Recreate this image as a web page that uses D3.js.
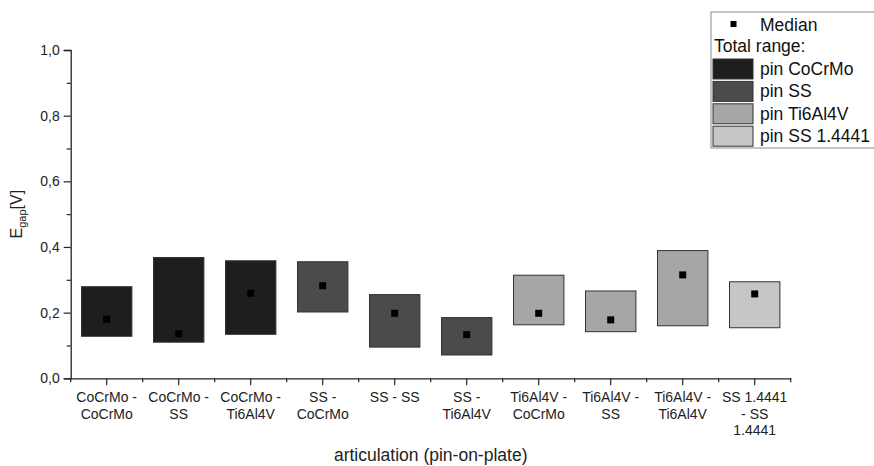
<!DOCTYPE html>
<html>
<head>
<meta charset="utf-8">
<script src="https://cdn.jsdelivr.net/npm/d3@7/dist/d3.min.js"></script>
<style>
  html, body { margin: 0; padding: 0; background: #fff; }
  svg { display: block; font-family: "Liberation Sans", Arial, Helvetica, sans-serif; }
</style>
</head>
<body>
<svg id="chart" width="874" height="466"></svg>
<script>
// Articulation pairs (pin - plate)
const categories = [
  "CoCrMo - CoCrMo", "CoCrMo - SS", "CoCrMo - Ti6Al4V",
  "SS - CoCrMo", "SS - SS", "SS - Ti6Al4V",
  "Ti6Al4V - CoCrMo", "Ti6Al4V - SS", "Ti6Al4V - Ti6Al4V",
  "SS 1.4441 - SS 1.4441"
];
// Wrapped tick labels, one array of lines per category
const tickLines = [
  ["CoCrMo -", "CoCrMo"], ["CoCrMo -", "SS"], ["CoCrMo -", "Ti6Al4V"],
  ["SS -", "CoCrMo"], ["SS - SS"], ["SS -", "Ti6Al4V"],
  ["Ti6Al4V -", "CoCrMo"], ["Ti6Al4V -", "SS"], ["Ti6Al4V -", "Ti6Al4V"],
  ["SS 1.4441", "- SS", "1.4441"]
];
// Pin material of each articulation
const pins = [
  "pin CoCrMo", "pin CoCrMo", "pin CoCrMo",
  "pin SS", "pin SS", "pin SS",
  "pin Ti6Al4V", "pin Ti6Al4V", "pin Ti6Al4V",
  "pin SS 1.4441"
];
// E_gap total range (min / max) and median, in V
const rangeMin = [0.128, 0.110, 0.134, 0.202, 0.095, 0.071, 0.163, 0.142, 0.160, 0.154];
const rangeMax = [0.279, 0.368, 0.358, 0.355, 0.255, 0.185, 0.314, 0.266, 0.389, 0.294];
const medians  = [0.180, 0.136, 0.259, 0.282, 0.198, 0.133, 0.198, 0.178, 0.315, 0.257];

const pinNames  = ["pin CoCrMo", "pin SS", "pin Ti6Al4V", "pin SS 1.4441"];
const pinColors = ["#1e1e1e", "#4b4b4b", "#a6a6a6", "#c6c6c6"];

const majorTicks = [0, 0.2, 0.4, 0.6, 0.8, 1.0];
const minorTicks = [0.1, 0.3, 0.5, 0.7, 0.9];

const svg = d3.select("#chart");
const plotLeft = 70.7, plotRight = 790.7, plotTop = 50, plotBottom = 378.3;

const x = d3.scaleBand().domain(categories).range([plotLeft, plotRight]).padding(0);
const y = d3.scaleLinear().domain([0, 1]).range([plotBottom, plotTop]);
const color = d3.scaleOrdinal().domain(pinNames).range(pinColors);

const axisColor = "#222";

// Range boxes
const barW = x.bandwidth() * 0.7;
const rows = categories.map((c, i) => ({ c, pin: pins[i], lo: rangeMin[i], hi: rangeMax[i], med: medians[i] }));

svg.append("g").selectAll("rect").data(rows).join("rect")
  .attr("x", d => x(d.c) + (x.bandwidth() - barW) / 2)
  .attr("y", d => y(d.hi))
  .attr("width", barW)
  .attr("height", d => y(d.lo) - y(d.hi))
  .attr("fill", d => color(d.pin))
  .attr("stroke", "#333")
  .attr("stroke-width", 1);

// Median markers
const mk = 7;
svg.append("g").selectAll("rect").data(rows).join("rect")
  .attr("x", d => x(d.c) + x.bandwidth() / 2 - mk / 2)
  .attr("y", d => y(d.med) - mk / 2)
  .attr("width", mk).attr("height", mk)
  .attr("fill", "#000");

// Y axis
const yAxis = svg.append("g").attr("transform", `translate(${plotLeft},0)`)
  .call(d3.axisLeft(y).tickValues(majorTicks).tickSize(7).tickPadding(4)
    .tickFormat(d => d.toFixed(1).replace(".", ",")));
const yMinor = svg.append("g").attr("transform", `translate(${plotLeft},0)`)
  .call(d3.axisLeft(y).tickValues(minorTicks).tickSize(4).tickFormat(""));
yMinor.select(".domain").remove();
yMinor.selectAll(".tick line").attr("stroke", axisColor).attr("stroke-width", 1.2);
yAxis.select(".domain").attr("stroke", axisColor).attr("stroke-width", 1.3);
yAxis.selectAll(".tick line").attr("stroke", axisColor).attr("stroke-width", 1.2);
yAxis.selectAll(".tick text").attr("font-size", 14).attr("fill", "#222")
  .attr("font-family", "Liberation Sans, Arial, sans-serif");

// X axis
const xAxis = svg.append("g").attr("transform", `translate(0,${plotBottom})`)
  .call(d3.axisBottom(x).tickSize(7).tickSizeOuter(0).tickFormat(""));
xAxis.select(".domain").attr("stroke", axisColor).attr("stroke-width", 1.3);
xAxis.selectAll(".tick line").attr("stroke", axisColor).attr("stroke-width", 1.2);

// Minor ticks on category boundaries
const bounds = categories.map(c => x(c)).concat([x(categories[categories.length - 1]) + x.bandwidth()]);
svg.append("g").selectAll("line").data(bounds).join("line")
  .attr("x1", d => d).attr("x2", d => d)
  .attr("y1", plotBottom).attr("y2", plotBottom + 4)
  .attr("stroke", axisColor).attr("stroke-width", 1.2);

// Multi-line tick labels
const lbl = svg.append("g").attr("font-size", 14).attr("fill", "#222").attr("text-anchor", "middle");
categories.forEach((c, i) => {
  const cx = x(c) + x.bandwidth() / 2;
  const t = lbl.append("text").attr("x", cx).attr("y", 402);
  tickLines[i].forEach((line, j) => {
    t.append("tspan").attr("x", cx).attr("dy", j === 0 ? 0 : 16.5).text(line);
  });
});

// Axis titles
svg.append("text")
  .attr("x", (plotLeft + plotRight) / 2).attr("y", 461)
  .attr("text-anchor", "middle").attr("font-size", 17.5).attr("fill", "#222")
  .text("articulation (pin-on-plate)");

const yt = svg.append("text")
  .attr("transform", `translate(22,${(plotTop + plotBottom) / 2}) rotate(-90)`)
  .attr("text-anchor", "middle").attr("font-size", 16).attr("fill", "#222");
yt.append("tspan").text("E");
yt.append("tspan").attr("font-size", 11).attr("dy", 4).text("gap");
yt.append("tspan").attr("dy", -4).text("[V]");

// Legend
const lg = svg.append("g").attr("font-size", 17.5).attr("fill", "#111");
lg.append("rect").attr("x", 711).attr("y", 12).attr("width", 170).attr("height", 136)
  .attr("fill", "#fff").attr("stroke", "#8a8a8a").attr("stroke-width", 1);
lg.append("rect").attr("x", 730.5).attr("y", 21).attr("width", 6).attr("height", 6).attr("fill", "#000");
lg.append("text").attr("x", 760).attr("y", 30.5).text("Median");
lg.append("text").attr("x", 714).attr("y", 52).text("Total range:");
pinNames.forEach((p, i) => {
  const sy = 59 + i * 22.4;
  lg.append("rect").attr("x", 713).attr("y", sy).attr("width", 40).attr("height", 20)
    .attr("fill", color(p)).attr("stroke", "#333").attr("stroke-width", 1);
  lg.append("text").attr("x", 760).attr("y", sy + 16).text(p);
});
</script>
</body>
</html>
